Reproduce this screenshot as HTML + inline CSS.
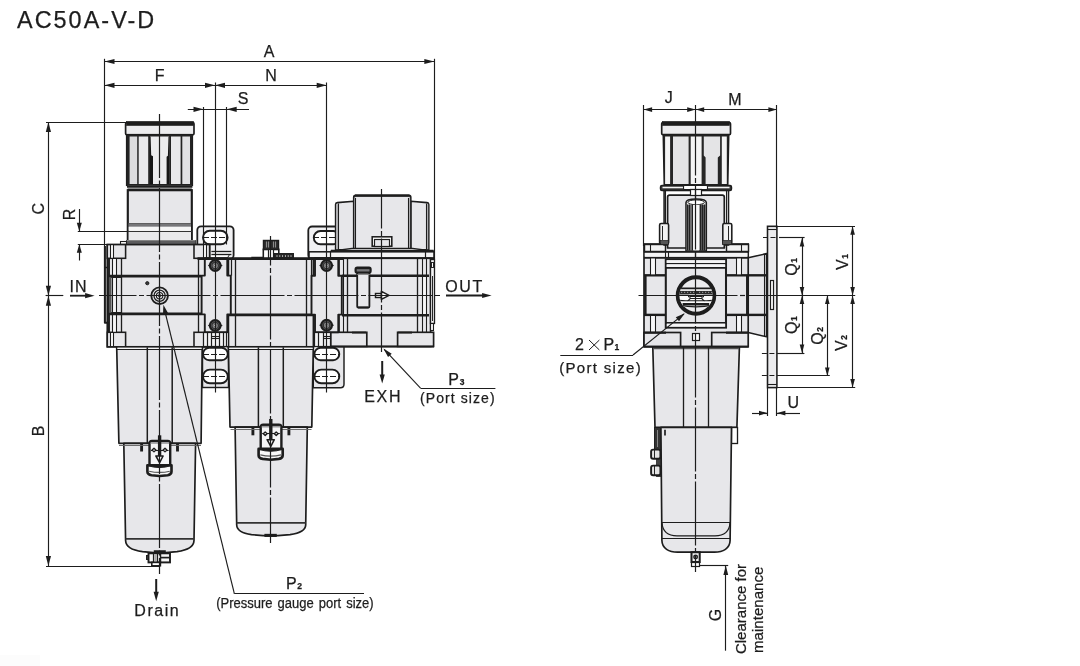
<!DOCTYPE html>
<html><head><meta charset="utf-8"><title>AC50A-V-D</title>
<style>
html,body{margin:0;padding:0;background:#fff;}
svg{display:block;will-change:transform;}
text{font-family:"Liberation Sans",sans-serif;fill:#1d1d1d;stroke:#1d1d1d;stroke-width:0.25px;}
</style></head><body>
<svg width="1080" height="666" viewBox="0 0 1080 666">
<rect x="0" y="0" width="1080" height="666" fill="#ffffff"/><rect x="0" y="655" width="40" height="11" fill="#fcfcfc"/>
<rect x="197.3" y="226.3" width="36.3" height="32.7" rx="3.8" fill="#f1f1f3" stroke="#1d1d1d" stroke-width="1.8" />
<rect x="203" y="230.8" width="24.6" height="13.5" rx="6.75" fill="#fff" stroke="#1d1d1d" stroke-width="1.92" />
<line x1="203" y1="237.5" x2="228" y2="237.5" stroke="#1d1d1d" stroke-width="1.08" stroke-dasharray="6 2"/>
<rect x="211.4" y="252.2" width="20.0" height="1.4" rx="0" fill="#fff" stroke="none" stroke-width="0.0" />
<rect x="211.4" y="254.6" width="18.1" height="2.8" rx="0" fill="#fff" stroke="none" stroke-width="0.0" />
<line x1="211.4" y1="251.5" x2="231.4" y2="251.5" stroke="#1d1d1d" stroke-width="1.32" />
<line x1="211.4" y1="254.5" x2="231.4" y2="254.5" stroke="#1d1d1d" stroke-width="1.32" />
<line x1="229.6" y1="254.5" x2="227.6" y2="257.6" stroke="#1d1d1d" stroke-width="0.96" />
<rect x="202.5" y="346.5" width="26.0" height="41.0" rx="0" fill="#e7e7ea" stroke="#1d1d1d" stroke-width="1.44" />
<rect x="203" y="347.8" width="24.8" height="12.4" rx="6.199999999999989" fill="#fff" stroke="#1d1d1d" stroke-width="1.92" />
<rect x="203" y="369.6" width="24.8" height="13.7" rx="6.849999999999994" fill="#fff" stroke="#1d1d1d" stroke-width="1.92" />
<line x1="203" y1="354.5" x2="228" y2="354.5" stroke="#1d1d1d" stroke-width="1.08" stroke-dasharray="6 2"/>
<line x1="203" y1="376.5" x2="228" y2="376.5" stroke="#1d1d1d" stroke-width="1.08" stroke-dasharray="6 2"/>
<rect x="308.3" y="226.5" width="35.7" height="32.5" rx="3.8" fill="#f1f1f3" stroke="#1d1d1d" stroke-width="1.8" />
<rect x="313.8" y="231" width="26.2" height="13.3" rx="6.650000000000006" fill="#fff" stroke="#1d1d1d" stroke-width="1.92" />
<line x1="313" y1="237.5" x2="341" y2="237.5" stroke="#1d1d1d" stroke-width="1.08" stroke-dasharray="6 2"/>
<path d="M313.3 346 L344 346 L344 384.3 Q344 387.8 340.5 387.8 L313.3 387.8 Z" fill="#e7e7ea" stroke="#1d1d1d" stroke-width="1.44" stroke-linejoin="round" />
<rect x="314.4" y="347.8" width="24.9" height="12.4" rx="6.199999999999989" fill="#fff" stroke="#1d1d1d" stroke-width="1.92" />
<rect x="314.4" y="369.6" width="24.9" height="13.7" rx="6.849999999999994" fill="#fff" stroke="#1d1d1d" stroke-width="1.92" />
<line x1="314" y1="354.5" x2="340" y2="354.5" stroke="#1d1d1d" stroke-width="1.08" stroke-dasharray="6 2"/>
<line x1="314" y1="376.5" x2="340" y2="376.5" stroke="#1d1d1d" stroke-width="1.08" stroke-dasharray="6 2"/>
<rect x="125.6" y="122.6" width="68.4" height="12.2" rx="1.2" fill="#ececee" stroke="#1d1d1d" stroke-width="1.68" />
<rect x="126.5" y="121.5" width="67.0" height="4.0" rx="0" fill="#1d1d1d" stroke="#1d1d1d" stroke-width="0.6" />
<rect x="126.5" y="134.5" width="66.0" height="51.0" rx="0" fill="#242424" stroke="#1d1d1d" stroke-width="1.2" />
<rect x="129.6" y="136.5" width="7.6" height="47.5" rx="0" fill="#dcdcde" stroke="none" stroke-width="0.0" />
<rect x="138.7" y="136.5" width="9.5" height="47.5" rx="0" fill="#e9e9eb" stroke="none" stroke-width="0.0" />
<rect x="150.0" y="136.5" width="19.1" height="47.5" rx="0" fill="#ececee" stroke="none" stroke-width="0.0" />
<rect x="171.0" y="136.5" width="9.6" height="47.5" rx="0" fill="#e9e9eb" stroke="none" stroke-width="0.0" />
<rect x="182.3" y="136.5" width="7.7" height="47.5" rx="0" fill="#e2e2e4" stroke="none" stroke-width="0.0" />
<path d="M150.0 136.5 L150.6 136.5 L151.2 155.2 L153.0 156.2 L153.0 184 L150.0 184 Z" fill="#161616" stroke="#1d1d1d" stroke-width="0.0" stroke-linejoin="round" />
<path d="M169.1 136.5 L168.5 136.5 L167.9 155.8 L166.6 156.8 L166.6 184 L169.1 184 Z" fill="#161616" stroke="#1d1d1d" stroke-width="0.0" stroke-linejoin="round" />
<rect x="127.6" y="185.6" width="64.2" height="4.8" rx="0" fill="#fafafa" stroke="none" stroke-width="0.0" />
<line x1="127.0" y1="186.5" x2="192.4" y2="186.5" stroke="#1d1d1d" stroke-width="2.4" />
<line x1="127.6" y1="189.6" x2="191.8" y2="189.6" stroke="#1d1d1d" stroke-width="2.16" />
<rect x="127.8" y="190.2" width="64.0" height="51.0" rx="0" fill="#e7e7ea" stroke="#1d1d1d" stroke-width="2.16" />
<rect x="128.6" y="223.3" width="62.4" height="3.5" rx="0" fill="#77777a" stroke="none" stroke-width="0.0" />
<line x1="128.6" y1="223.5" x2="191" y2="223.5" stroke="#555" stroke-width="0.84" />
<rect x="128.6" y="226.8" width="62.4" height="4.0" rx="0" fill="#f6f6f6" stroke="none" stroke-width="0.0" />
<rect x="128.6" y="231.8" width="62.4" height="8.4" rx="0" fill="#e9e9eb" stroke="none" stroke-width="0.0" />
<line x1="128" y1="231.5" x2="192" y2="231.5" stroke="#333" stroke-width="1.08" />
<rect x="120.5" y="241.5" width="6.0" height="3.0" rx="0" fill="#fff" stroke="#1d1d1d" stroke-width="1.08" />
<rect x="126.5" y="240.5" width="69.0" height="4.0" rx="0" fill="#5c5c5e" stroke="#1d1d1d" stroke-width="0.72" />
<line x1="126.6" y1="240.5" x2="195.2" y2="240.5" stroke="#888" stroke-width="0.96" />
<rect x="107.3" y="244.6" width="102.3" height="102.2" rx="0" fill="#e7e7ea" stroke="#1d1d1d" stroke-width="1.68" />
<path d="M104.9 246 L104.9 322.7 L108 322.7 L108 332" fill="none" stroke="#1d1d1d" stroke-width="2.04" stroke-linejoin="round" />
<line x1="104.9" y1="267.5" x2="108" y2="267.5" stroke="#1d1d1d" stroke-width="1.44" />
<rect x="107.3" y="244.6" width="18.3" height="13.7" rx="0" fill="#e7e7ea" stroke="#1d1d1d" stroke-width="1.56" />
<rect x="107.3" y="332.3" width="18.3" height="14.5" rx="0" fill="#e7e7ea" stroke="#1d1d1d" stroke-width="1.56" />
<rect x="194" y="244.6" width="15.6" height="13.7" rx="0" fill="#e7e7ea" stroke="#1d1d1d" stroke-width="1.56" />
<rect x="194" y="332.3" width="15.6" height="14.5" rx="0" fill="#e7e7ea" stroke="#1d1d1d" stroke-width="1.56" />
<rect x="110.6" y="245.4" width="2.6" height="12.2" rx="0" fill="#fafafa" stroke="none" stroke-width="0.0" />
<rect x="110.6" y="333" width="2.6" height="13" rx="0" fill="#fafafa" stroke="none" stroke-width="0.0" />
<rect x="203.6" y="245.4" width="2.6" height="12.2" rx="0" fill="#fafafa" stroke="none" stroke-width="0.0" />
<rect x="203.6" y="333" width="2.6" height="13" rx="0" fill="#fafafa" stroke="none" stroke-width="0.0" />
<line x1="110.5" y1="245" x2="110.5" y2="258" stroke="#1d1d1d" stroke-width="1.08" />
<line x1="110.5" y1="332.5" x2="110.5" y2="346.5" stroke="#1d1d1d" stroke-width="1.08" />
<line x1="113.5" y1="245" x2="113.5" y2="258" stroke="#1d1d1d" stroke-width="1.08" />
<line x1="113.5" y1="332.5" x2="113.5" y2="346.5" stroke="#1d1d1d" stroke-width="1.08" />
<line x1="203.5" y1="245" x2="203.5" y2="258" stroke="#1d1d1d" stroke-width="1.08" />
<line x1="203.5" y1="332.5" x2="203.5" y2="346.5" stroke="#1d1d1d" stroke-width="1.08" />
<line x1="206.5" y1="245" x2="206.5" y2="258" stroke="#1d1d1d" stroke-width="1.08" />
<line x1="206.5" y1="332.5" x2="206.5" y2="346.5" stroke="#1d1d1d" stroke-width="1.08" />
<line x1="121.5" y1="258.3" x2="121.5" y2="332.3" stroke="#1d1d1d" stroke-width="1.32" />
<line x1="198.5" y1="258.3" x2="198.5" y2="332.3" stroke="#1d1d1d" stroke-width="1.32" />
<rect x="112.4" y="259" width="4.0" height="72.6" rx="0" fill="#f7f7f8" stroke="none" stroke-width="0.0" />
<line x1="112.5" y1="258.3" x2="112.5" y2="332.3" stroke="#1d1d1d" stroke-width="1.08" />
<line x1="116.5" y1="258.3" x2="116.5" y2="332.3" stroke="#1d1d1d" stroke-width="1.08" />
<line x1="109.0" y1="258.3" x2="109.0" y2="332.3" stroke="#1d1d1d" stroke-width="1.92" />
<line x1="108.5" y1="276.1" x2="201" y2="276.1" stroke="#1d1d1d" stroke-width="2.64" />
<line x1="108.5" y1="313.9" x2="201" y2="313.9" stroke="#1d1d1d" stroke-width="2.64" />
<path d="M121.8 277.2 L110.5 277.2 Q108.2 277.2 108.2 279.5 L108.2 310.5 Q108.2 312.8 110.5 312.8 L121.8 312.8" fill="none" stroke="#1d1d1d" stroke-width="1.44" stroke-linejoin="round" />
<line x1="110.2" y1="277.2" x2="110.2" y2="312.8" stroke="#555" stroke-width="2.64" />
<circle cx="159.6" cy="295.7" r="8.3" fill="#e7e7ea" stroke="#1d1d1d" stroke-width="1.92"/>
<circle cx="159.6" cy="295.7" r="5.6" fill="none" stroke="#1d1d1d" stroke-width="1.32"/>
<circle cx="159.6" cy="295.7" r="3.2" fill="none" stroke="#1d1d1d" stroke-width="1.08"/>
<circle cx="159.6" cy="295.7" r="1.3" fill="none" stroke="#1d1d1d" stroke-width="0.84"/>
<circle cx="147.3" cy="283.2" r="1.6" fill="#3a3a3a" stroke="#1d1d1d" stroke-width="0.96"/>
<rect x="228.4" y="258.7" width="85.0" height="88.1" rx="0" fill="#e7e7ea" stroke="#1d1d1d" stroke-width="1.68" />
<line x1="235.5" y1="258.7" x2="235.5" y2="346.8" stroke="#1d1d1d" stroke-width="1.32" />
<line x1="306.5" y1="258.7" x2="306.5" y2="346.8" stroke="#1d1d1d" stroke-width="1.32" />
<line x1="228.4" y1="314.9" x2="313.4" y2="314.9" stroke="#1d1d1d" stroke-width="2.64" />
<line x1="231.5" y1="258.7" x2="231.5" y2="275.6" stroke="#1d1d1d" stroke-width="1.2" />
<line x1="311.5" y1="258.7" x2="311.5" y2="275.6" stroke="#1d1d1d" stroke-width="1.2" />
<line x1="251.3" y1="257.5" x2="293.6" y2="257.5" stroke="#1d1d1d" stroke-width="1.44" />
<rect x="263.3" y="249.3" width="15.5" height="9.4" rx="0" fill="#fff" stroke="#1d1d1d" stroke-width="1.56" />
<rect x="263.5" y="240.5" width="15.0" height="9.0" rx="0" fill="#2c2c2c" stroke="#1d1d1d" stroke-width="1.44" />
<line x1="266.5" y1="241.5" x2="266.5" y2="247.5" stroke="#8a8a8a" stroke-width="1.08" />
<line x1="268.5" y1="241.5" x2="268.5" y2="247.5" stroke="#8a8a8a" stroke-width="1.08" />
<line x1="273.5" y1="241.5" x2="273.5" y2="247.5" stroke="#8a8a8a" stroke-width="1.08" />
<line x1="275.5" y1="241.5" x2="275.5" y2="247.5" stroke="#8a8a8a" stroke-width="1.08" />
<rect x="268.5" y="249.5" width="5.0" height="9.0" rx="0" fill="#fff" stroke="#1d1d1d" stroke-width="1.2" />
<rect x="274.5" y="253.5" width="19.0" height="5.0" rx="0" fill="#262626" stroke="#1d1d1d" stroke-width="0.96" />
<rect x="276.55" y="255.2" width="0.9" height="1.7" rx="0" fill="#cfcfcf" stroke="none" stroke-width="0.0" />
<rect x="279.35" y="255.2" width="0.9" height="1.7" rx="0" fill="#cfcfcf" stroke="none" stroke-width="0.0" />
<rect x="282.15000000000003" y="255.2" width="0.9" height="1.7" rx="0" fill="#cfcfcf" stroke="none" stroke-width="0.0" />
<rect x="284.95" y="255.2" width="0.9" height="1.7" rx="0" fill="#cfcfcf" stroke="none" stroke-width="0.0" />
<rect x="287.75" y="255.2" width="0.9" height="1.7" rx="0" fill="#cfcfcf" stroke="none" stroke-width="0.0" />
<rect x="290.55" y="255.2" width="0.9" height="1.7" rx="0" fill="#cfcfcf" stroke="none" stroke-width="0.0" />
<path d="M335.6 249.8 L335.6 204.6 Q335.6 202.8 337.4 202.6 L353.8 201.2 L353.8 249.8 Z" fill="#e7e7ea" stroke="#1d1d1d" stroke-width="1.56" stroke-linejoin="round" />
<path d="M428.8 249.8 L428.8 204.6 Q428.8 202.8 427 202.6 L410.7 201.2 L410.7 249.8 Z" fill="#e7e7ea" stroke="#1d1d1d" stroke-width="1.56" stroke-linejoin="round" />
<rect x="336.2" y="204.2" width="2.5" height="45.2" rx="0" fill="#b4b4b6" stroke="none" stroke-width="0.0" />
<rect x="426.1" y="204.2" width="2.1" height="45.2" rx="0" fill="#b4b4b6" stroke="none" stroke-width="0.0" />
<line x1="338.5" y1="203.5" x2="338.5" y2="249.8" stroke="#1d1d1d" stroke-width="1.08" />
<line x1="426.5" y1="203.5" x2="426.5" y2="249.8" stroke="#1d1d1d" stroke-width="1.08" />
<path d="M353.8 249.8 L353.8 197.3 Q353.8 195.5 355.6 195.5 L408.9 195.5 Q410.7 195.5 410.7 197.3 L410.7 249.8 Z" fill="#e7e7ea" stroke="#1d1d1d" stroke-width="1.8" stroke-linejoin="round" />
<line x1="355" y1="195.6" x2="409.5" y2="195.6" stroke="#1d1d1d" stroke-width="2.4" />
<rect x="354.4" y="197.5" width="1.5" height="51.9" rx="0" fill="#b4b4b6" stroke="none" stroke-width="0.0" />
<rect x="408.5" y="197.5" width="1.6" height="51.9" rx="0" fill="#b4b4b6" stroke="none" stroke-width="0.0" />
<line x1="355.5" y1="198" x2="355.5" y2="249.8" stroke="#1d1d1d" stroke-width="1.08" />
<line x1="408.5" y1="198" x2="408.5" y2="249.8" stroke="#1d1d1d" stroke-width="1.08" />
<rect x="372.2" y="236.8" width="19.6" height="9.4" rx="0" fill="#fff" stroke="#1d1d1d" stroke-width="1.56" />
<rect x="374.5" y="239.5" width="15.0" height="7.0" rx="0" fill="#e7e7ea" stroke="#1d1d1d" stroke-width="1.2" />
<path d="M330.8 251.2 L352 248.4 L412.5 248.4 L433.6 251.2 L433.6 258.3 L330.8 258.3 Z" fill="#f2f2f3" stroke="#1d1d1d" stroke-width="1.44" stroke-linejoin="round" />
<line x1="331" y1="250.8" x2="433.6" y2="250.8" stroke="#1d1d1d" stroke-width="2.16" />
<rect x="309" y="251.8" width="125" height="6.5" rx="0" fill="#f4f4f5" stroke="#1d1d1d" stroke-width="1.56" />
<line x1="330.5" y1="251.8" x2="330.5" y2="258.3" stroke="#1d1d1d" stroke-width="1.2" />
<line x1="425.5" y1="251.8" x2="425.5" y2="258.3" stroke="#1d1d1d" stroke-width="1.2" />
<line x1="309" y1="258.3" x2="434" y2="258.3" stroke="#1d1d1d" stroke-width="2.16" />
<rect x="339" y="258.3" width="91.6" height="88.1" rx="0" fill="#e7e7ea" stroke="#1d1d1d" stroke-width="1.68" />
<line x1="342" y1="275.8" x2="429" y2="275.8" stroke="#1d1d1d" stroke-width="2.4" />
<line x1="342" y1="315.3" x2="429" y2="315.3" stroke="#1d1d1d" stroke-width="2.4" />
<line x1="347.5" y1="258.3" x2="347.5" y2="332.3" stroke="#1d1d1d" stroke-width="1.32" />
<line x1="417.5" y1="258.3" x2="417.5" y2="332.3" stroke="#1d1d1d" stroke-width="1.32" />
<rect x="422.8" y="277" width="4.1" height="37" rx="0" fill="#f7f7f8" stroke="none" stroke-width="0.0" />
<line x1="422.5" y1="258.3" x2="422.5" y2="332.3" stroke="#1d1d1d" stroke-width="1.08" />
<line x1="426.5" y1="258.3" x2="426.5" y2="332.3" stroke="#1d1d1d" stroke-width="1.08" />
<line x1="343.5" y1="258.3" x2="343.5" y2="332.3" stroke="#1d1d1d" stroke-width="1.08" />
<rect x="430.5" y="259.5" width="4.0" height="64.0" rx="0" fill="#f4f4f5" stroke="#1d1d1d" stroke-width="1.32" />
<rect x="431.5" y="262.5" width="2.0" height="5.0" rx="0" fill="#fff" stroke="#1d1d1d" stroke-width="0.96" />
<line x1="432.5" y1="276" x2="432.5" y2="321" stroke="#1d1d1d" stroke-width="0.96" />
<rect x="430.5" y="323.5" width="3.0" height="7.0" rx="0" fill="#f4f4f5" stroke="#1d1d1d" stroke-width="1.08" />
<rect x="357.2" y="271" width="12.2" height="36.6" rx="1.2" fill="#e9e9ec" stroke="#1d1d1d" stroke-width="1.8" />
<line x1="358" y1="307.4" x2="368.6" y2="307.4" stroke="#1d1d1d" stroke-width="1.92" />
<rect x="355.6" y="267.6" width="15.0" height="5.0" rx="1.6" fill="#77777a" stroke="#1d1d1d" stroke-width="2.16" />
<line x1="356" y1="268.2" x2="370.2" y2="268.2" stroke="#1d1d1d" stroke-width="1.92" />
<line x1="357.2" y1="274.5" x2="369.8" y2="274.5" stroke="#888" stroke-width="0.96" />
<rect x="375.5" y="293.5" width="6.0" height="4.0" rx="0" fill="#fff" stroke="#1d1d1d" stroke-width="1.44" />
<line x1="375" y1="295.5" x2="381.4" y2="295.5" stroke="#1d1d1d" stroke-width="0.84" />
<path d="M381.4 291.4 L389.0 295.4 L381.4 299.4 Z" fill="#fff" stroke="#1d1d1d" stroke-width="1.56" stroke-linejoin="round" />
<rect x="330.8" y="332.3" width="36.0" height="14.1" rx="0" fill="#e7e7ea" stroke="#1d1d1d" stroke-width="1.68" />
<rect x="397.6" y="332.3" width="36.0" height="14.1" rx="0" fill="#e7e7ea" stroke="#1d1d1d" stroke-width="1.68" />
<line x1="352" y1="332.6" x2="366" y2="332.6" stroke="#1d1d1d" stroke-width="1.92" />
<line x1="398" y1="332.6" x2="412" y2="332.6" stroke="#1d1d1d" stroke-width="1.92" />
<line x1="330.8" y1="346.6" x2="434" y2="346.6" stroke="#1d1d1d" stroke-width="1.92" />
<path d="M204.8 258.3 L227.3 258.3 L227.3 275.6 L230.8 275.6 L230.8 314.4 L227.3 314.4 L227.3 332.3 L204.8 332.3 L204.8 314.4 L201.6 314.4 L201.6 275.6 L204.8 275.6 Z" fill="#e7e7ea" stroke="#1d1d1d" stroke-width="1.92" stroke-linejoin="round" />
<path d="M208.0 265.5 L210.2 264.1 L210.2 266.9 Z M222.39999999999998 265.5 L220.2 264.1 L220.2 266.9 Z" fill="#1d1d1d" stroke="#1d1d1d" stroke-width="0.36" stroke-linejoin="round" />
<circle cx="215.2" cy="265.5" r="5.3" fill="#6a6a6c" stroke="#1d1d1d" stroke-width="2.16"/>
<circle cx="215.2" cy="265.5" r="3.2" fill="#8a8a8c" stroke="#333" stroke-width="1.2"/>
<circle cx="215.2" cy="265.5" r="1.3" fill="#e0e0e0" stroke="#444" stroke-width="0.72"/>
<path d="M208.0 325.5 L210.2 324.1 L210.2 326.9 Z M222.39999999999998 325.5 L220.2 324.1 L220.2 326.9 Z" fill="#1d1d1d" stroke="#1d1d1d" stroke-width="0.36" stroke-linejoin="round" />
<circle cx="215.2" cy="325.5" r="5.3" fill="#6a6a6c" stroke="#1d1d1d" stroke-width="2.16"/>
<circle cx="215.2" cy="325.5" r="3.2" fill="#8a8a8c" stroke="#333" stroke-width="1.2"/>
<circle cx="215.2" cy="325.5" r="1.3" fill="#e0e0e0" stroke="#444" stroke-width="0.72"/>
<rect x="203.5" y="332.5" width="25.0" height="14.0" rx="0" fill="#f3f3f4" stroke="#1d1d1d" stroke-width="1.2" />
<line x1="207.5" y1="332.3" x2="207.5" y2="346.8" stroke="#1d1d1d" stroke-width="1.2" />
<line x1="211.5" y1="332.3" x2="211.5" y2="346.8" stroke="#1d1d1d" stroke-width="1.2" />
<line x1="219.5" y1="332.3" x2="219.5" y2="346.8" stroke="#1d1d1d" stroke-width="1.2" />
<line x1="223.5" y1="332.3" x2="223.5" y2="346.8" stroke="#1d1d1d" stroke-width="1.2" />
<line x1="226.5" y1="332.3" x2="226.5" y2="346.8" stroke="#1d1d1d" stroke-width="1.2" />
<line x1="211.8" y1="336.5" x2="219.0" y2="336.5" stroke="#1d1d1d" stroke-width="1.08" />
<line x1="211.8" y1="338.5" x2="219.0" y2="338.5" stroke="#1d1d1d" stroke-width="1.08" />
<line x1="215.5" y1="338.6" x2="215.5" y2="346.8" stroke="#1d1d1d" stroke-width="0.96" />
<path d="M315 258.3 L338.3 258.3 L338.3 275.8 L341.8 275.8 L341.8 314.6 L338.3 314.6 L338.3 332.3 L315 332.3 L315 314.6 L311.5 314.6 L311.5 275.8 L315 275.8 Z" fill="#e7e7ea" stroke="#1d1d1d" stroke-width="1.92" stroke-linejoin="round" />
<path d="M319.40000000000003 265.5 L321.6 264.1 L321.6 266.9 Z M333.8 265.5 L331.6 264.1 L331.6 266.9 Z" fill="#1d1d1d" stroke="#1d1d1d" stroke-width="0.36" stroke-linejoin="round" />
<circle cx="326.6" cy="265.5" r="5.3" fill="#6a6a6c" stroke="#1d1d1d" stroke-width="2.16"/>
<circle cx="326.6" cy="265.5" r="3.2" fill="#8a8a8c" stroke="#333" stroke-width="1.2"/>
<circle cx="326.6" cy="265.5" r="1.3" fill="#e0e0e0" stroke="#444" stroke-width="0.72"/>
<path d="M319.40000000000003 325.2 L321.6 323.8 L321.6 326.59999999999997 Z M333.8 325.2 L331.6 323.8 L331.6 326.59999999999997 Z" fill="#1d1d1d" stroke="#1d1d1d" stroke-width="0.36" stroke-linejoin="round" />
<circle cx="326.6" cy="325.2" r="5.3" fill="#6a6a6c" stroke="#1d1d1d" stroke-width="2.16"/>
<circle cx="326.6" cy="325.2" r="3.2" fill="#8a8a8c" stroke="#333" stroke-width="1.2"/>
<circle cx="326.6" cy="325.2" r="1.3" fill="#e0e0e0" stroke="#444" stroke-width="0.72"/>
<rect x="314.5" y="332.5" width="16.0" height="14.0" rx="0" fill="#f3f3f4" stroke="#1d1d1d" stroke-width="1.2" />
<line x1="318.5" y1="332.3" x2="318.5" y2="346.8" stroke="#1d1d1d" stroke-width="1.2" />
<line x1="323.5" y1="332.3" x2="323.5" y2="346.8" stroke="#1d1d1d" stroke-width="1.2" />
<line x1="323.09999999999997" y1="336.5" x2="330.3" y2="336.5" stroke="#1d1d1d" stroke-width="1.08" />
<line x1="323.09999999999997" y1="338.5" x2="330.3" y2="338.5" stroke="#1d1d1d" stroke-width="1.08" />
<line x1="326.5" y1="338.6" x2="326.5" y2="346.8" stroke="#1d1d1d" stroke-width="0.96" />
<line x1="197.5" y1="258.7" x2="344" y2="258.7" stroke="#1d1d1d" stroke-width="2.76" />
<path d="M116.7 347.3 L202.2 347.3 L201.1 443.3 L118.9 443.3 Z" fill="#e7e7ea" stroke="#1d1d1d" stroke-width="1.68" stroke-linejoin="round" />
<rect x="117.4" y="347.6" width="84.2" height="1.4" rx="0" fill="#f3f3f4" stroke="none" stroke-width="0.0" />
<line x1="117" y1="349.5" x2="202" y2="349.5" stroke="#1d1d1d" stroke-width="1.2" />
<line x1="147.3" y1="347.3" x2="147.3" y2="443.3" stroke="#1d1d1d" stroke-width="1.5" />
<line x1="172.2" y1="347.3" x2="172.2" y2="443.3" stroke="#1d1d1d" stroke-width="1.5" />
<path d="M123.8 443.3 L195.6 443.3 L194.0 540.5 C193.8 547.5 187 550.3 177 551.6 L166 552.7 L153.5 552.7 L142.5 551.6 C132.5 550.3 125.8 547.5 125.6 540.5 Z" fill="#e7e7ea" stroke="#1d1d1d" stroke-width="1.68" stroke-linejoin="round" />
<line x1="125.6" y1="538.8" x2="194" y2="538.8" stroke="#333" stroke-width="1.8" />
<line x1="153.8" y1="551.8" x2="165.8" y2="551.8" stroke="#1d1d1d" stroke-width="3.12" />
<line x1="141.6" y1="444" x2="141.6" y2="451.5" stroke="#1d1d1d" stroke-width="2.88" />
<line x1="177.5" y1="444" x2="177.5" y2="451.5" stroke="#1d1d1d" stroke-width="2.88" />
<line x1="119" y1="445.5" x2="201" y2="445.5" stroke="#666" stroke-width="0.96" />
<rect x="148.5" y="553.3" width="21.5" height="9.1" rx="0" fill="#f6f6f6" stroke="#1d1d1d" stroke-width="1.92" />
<rect x="146.5" y="555.5" width="2.0" height="4.0" rx="0" fill="#333" stroke="#1d1d1d" stroke-width="0.96" />
<line x1="153.5" y1="553.3" x2="153.5" y2="562.4" stroke="#1d1d1d" stroke-width="1.2" />
<rect x="154.3" y="554" width="2.3" height="8" rx="0" fill="#aaa" stroke="none" stroke-width="0.0" />
<line x1="157.5" y1="553.3" x2="157.5" y2="562.4" stroke="#1d1d1d" stroke-width="1.2" />
<line x1="160.5" y1="553.3" x2="160.5" y2="562.4" stroke="#1d1d1d" stroke-width="1.44" />
<line x1="160.4" y1="557.6" x2="170" y2="557.6" stroke="#1d1d1d" stroke-width="1.68" />
<rect x="151.8" y="562.4" width="8.6" height="3.4" rx="0" fill="#fff" stroke="#1d1d1d" stroke-width="1.56" />
<path d="M152.0 441.0 L167.7 441.0 Q170.2 441.0 170.2 443.5 L170.2 465.5 L149.5 465.5 L149.5 443.5 Q149.5 441.0 152.0 441.0 Z" fill="#f6f6f7" stroke="#1d1d1d" stroke-width="2.4" stroke-linejoin="round" />
<rect x="150.5" y="442.2" width="18.7" height="1.6" rx="0" fill="#9a9a9c" stroke="none" stroke-width="0.0" />
<path d="M147.4 465.2 L171.5 465.2 L171.5 471.5 Q171.5 474.6 167.6 475.2 L159.6 476.0 L151.6 475.2 Q147.4 474.6 147.4 471.5 Z" fill="#f8f8f8" stroke="#1d1d1d" stroke-width="2.64" stroke-linejoin="round" />
<path d="M147.79999999999998 465.6 Q159.6 469.6 171.1 465.6 Z" fill="#1d1d1d" stroke="#1d1d1d" stroke-width="0.96" stroke-linejoin="round" />
<path d="M149.1 471.2 Q159.6 473.6 169.79999999999998 471.2" fill="none" stroke="#555" stroke-width="1.08" stroke-linejoin="round" />
<line x1="159.6" y1="435.3" x2="159.6" y2="456.0" stroke="#1d1d1d" stroke-width="3.36" />
<line x1="151.0" y1="450.5" x2="168.6" y2="450.5" stroke="#1d1d1d" stroke-width="1.08" />
<path d="M152.1 450.0 L154.0 448.2 L155.9 450.0 L154.0 451.8 Z" fill="#fff" stroke="#1d1d1d" stroke-width="1.32" stroke-linejoin="round" />
<path d="M163.1 450.0 L165.0 448.2 L166.9 450.0 L165.0 451.8 Z" fill="#fff" stroke="#1d1d1d" stroke-width="1.32" stroke-linejoin="round" />
<path d="M155.9 456.0 L163.1 456.0 L159.6 462.6 Z" fill="#fff" stroke="#1d1d1d" stroke-width="1.56" stroke-linejoin="round" />
<path d="M228.4 347.3 L313.3 347.3 L311.8 427.1 L230 427.1 Z" fill="#e7e7ea" stroke="#1d1d1d" stroke-width="1.68" stroke-linejoin="round" />
<rect x="229.2" y="347.6" width="83.4" height="1.4" rx="0" fill="#f3f3f4" stroke="none" stroke-width="0.0" />
<line x1="229" y1="349.5" x2="313" y2="349.5" stroke="#1d1d1d" stroke-width="1.2" />
<line x1="258.4" y1="347.3" x2="258.4" y2="427.1" stroke="#1d1d1d" stroke-width="1.5" />
<line x1="283.3" y1="347.3" x2="283.3" y2="427.1" stroke="#1d1d1d" stroke-width="1.5" />
<path d="M235.1 427.1 L307.3 427.1 L305.7 525.0 C305.5 530.5 300 533.2 290 534.6 L278 535.6 L263 535.6 L251.5 534.6 C241.5 533.2 236.9 530.5 236.7 525.0 Z" fill="#e7e7ea" stroke="#1d1d1d" stroke-width="1.68" stroke-linejoin="round" />
<line x1="236.7" y1="522.9" x2="305.7" y2="522.9" stroke="#333" stroke-width="1.8" />
<line x1="264.4" y1="535.4" x2="276.8" y2="535.4" stroke="#1d1d1d" stroke-width="3.12" />
<line x1="252.9" y1="428" x2="252.9" y2="435.3" stroke="#1d1d1d" stroke-width="2.88" />
<line x1="288.9" y1="428" x2="288.9" y2="435.3" stroke="#1d1d1d" stroke-width="2.88" />
<line x1="230.5" y1="429.5" x2="311.5" y2="429.5" stroke="#666" stroke-width="0.96" />
<path d="M263.2 424.7 L278.90000000000003 424.7 Q281.40000000000003 424.7 281.40000000000003 427.2 L281.40000000000003 449.2 L260.7 449.2 L260.7 427.2 Q260.7 424.7 263.2 424.7 Z" fill="#f6f6f7" stroke="#1d1d1d" stroke-width="2.4" stroke-linejoin="round" />
<rect x="261.7" y="425.9" width="18.7" height="1.6" rx="0" fill="#9a9a9c" stroke="none" stroke-width="0.0" />
<path d="M258.6 448.9 L282.7 448.9 L282.7 455.2 Q282.7 458.3 278.8 458.9 L270.8 459.7 L262.8 458.9 Q258.6 458.3 258.6 455.2 Z" fill="#f8f8f8" stroke="#1d1d1d" stroke-width="2.64" stroke-linejoin="round" />
<path d="M259.0 449.3 Q270.8 453.3 282.3 449.3 Z" fill="#1d1d1d" stroke="#1d1d1d" stroke-width="0.96" stroke-linejoin="round" />
<path d="M260.3 454.9 Q270.8 457.3 281.0 454.9" fill="none" stroke="#555" stroke-width="1.08" stroke-linejoin="round" />
<line x1="270.8" y1="419.0" x2="270.8" y2="439.7" stroke="#1d1d1d" stroke-width="3.36" />
<line x1="262.2" y1="433.5" x2="279.8" y2="433.5" stroke="#1d1d1d" stroke-width="1.08" />
<path d="M263.3 433.7 L265.2 431.9 L267.09999999999997 433.7 L265.2 435.5 Z" fill="#fff" stroke="#1d1d1d" stroke-width="1.32" stroke-linejoin="round" />
<path d="M274.3 433.7 L276.2 431.9 L278.09999999999997 433.7 L276.2 435.5 Z" fill="#fff" stroke="#1d1d1d" stroke-width="1.32" stroke-linejoin="round" />
<path d="M267.1 439.7 L274.3 439.7 L270.8 446.3 Z" fill="#fff" stroke="#1d1d1d" stroke-width="1.56" stroke-linejoin="round" />
<line x1="159.5" y1="114" x2="159.5" y2="574" stroke="#1d1d1d" stroke-width="1.2" stroke-dasharray="64 2.5 5 2.5" stroke-dashoffset="0"/>
<line x1="270.5" y1="236" x2="270.5" y2="543" stroke="#1d1d1d" stroke-width="1.2" stroke-dasharray="64 2.5 5 2.5" stroke-dashoffset="34.5"/>
<line x1="381.5" y1="189" x2="381.5" y2="352" stroke="#1d1d1d" stroke-width="1.2" stroke-dasharray="64 2.5 5 2.5" stroke-dashoffset="24.5"/>
<line x1="99" y1="295.5" x2="441" y2="295.5" stroke="#1d1d1d" stroke-width="1.2" stroke-dasharray="64 2.5 5 2.5" stroke-dashoffset="26.5"/>
<rect x="767.5" y="226.3" width="9.4" height="161.3" rx="0" fill="#ececee" stroke="#1d1d1d" stroke-width="1.56" />
<line x1="767.5" y1="229.5" x2="776.9" y2="229.5" stroke="#1d1d1d" stroke-width="1.08" />
<line x1="767.5" y1="384.5" x2="776.9" y2="384.5" stroke="#1d1d1d" stroke-width="1.08" />
<rect x="770.5" y="280.5" width="3.0" height="29.0" rx="0" fill="#fff" stroke="#1d1d1d" stroke-width="1.2" />
<path d="M748.2 257.8 L766.6 253.6 L766.6 336.8 L748.2 332.5 Z" fill="#e7e7ea" stroke="#1d1d1d" stroke-width="1.56" stroke-linejoin="round" />
<line x1="748.2" y1="275.3" x2="766.6" y2="275.3" stroke="#1d1d1d" stroke-width="2.4" />
<line x1="748.2" y1="314.9" x2="766.6" y2="314.9" stroke="#1d1d1d" stroke-width="2.4" />
<line x1="764.5" y1="254.2" x2="764.5" y2="336.2" stroke="#1d1d1d" stroke-width="1.08" />
<rect x="661.7" y="122.6" width="68.8" height="12.1" rx="1.2" fill="#ececee" stroke="#1d1d1d" stroke-width="1.68" />
<rect x="662.5" y="121.5" width="67.0" height="4.0" rx="0" fill="#1d1d1d" stroke="#1d1d1d" stroke-width="0.6" />
<path d="M663.2 134.7 L728.8 134.7 L727.8 185.1 L664.2 185.1 Z" fill="#262626" stroke="#1d1d1d" stroke-width="1.44" stroke-linejoin="round" />
<rect x="665.1" y="136.5" width="5.0" height="47.5" rx="0" fill="#f4f4f4" stroke="none" stroke-width="0.0" />
<rect x="673.0" y="136.5" width="15.6" height="47.5" rx="0" fill="#e4e4e6" stroke="none" stroke-width="0.0" />
<rect x="690.7" y="136.5" width="10.9" height="47.5" rx="0" fill="#f4f4f4" stroke="none" stroke-width="0.0" />
<path d="M703.8 136.5 L720.1 136.5 L720.1 155.5 L717.8 157.5 L717.8 184 L705.6 184 L705.6 157.5 L703.8 155.5 Z" fill="#e4e4e6" stroke="none" stroke-width="0.0" stroke-linejoin="round" />
<rect x="721.8" y="136.5" width="5.0" height="47.5" rx="0" fill="#f4f4f4" stroke="none" stroke-width="0.0" />
<rect x="660.5" y="185.5" width="71.0" height="5.0" rx="1.5" fill="#3a3a3a" stroke="#1d1d1d" stroke-width="1.44" />
<line x1="662.5" y1="187.5" x2="729.5" y2="187.5" stroke="#f4f4f4" stroke-width="1.44" />
<rect x="683.5" y="185.5" width="24.0" height="4.0" rx="1" fill="#fff" stroke="#1d1d1d" stroke-width="1.08" />
<rect x="690.5" y="189.5" width="11.0" height="6.0" rx="0" fill="#fff" stroke="#1d1d1d" stroke-width="1.08" />
<rect x="644" y="244" width="104.2" height="102.6" rx="0" fill="#e7e7ea" stroke="#1d1d1d" stroke-width="1.68" />
<rect x="644.5" y="244.5" width="21.0" height="7.0" rx="0" fill="#f2f2f2" stroke="#1d1d1d" stroke-width="1.44" />
<rect x="726.5" y="244.5" width="22.0" height="7.0" rx="0" fill="#f2f2f2" stroke="#1d1d1d" stroke-width="1.44" />
<line x1="650.5" y1="244" x2="650.5" y2="251.6" stroke="#1d1d1d" stroke-width="1.08" />
<line x1="741.5" y1="244" x2="741.5" y2="251.6" stroke="#1d1d1d" stroke-width="1.08" />
<rect x="664.1" y="190.5" width="64.4" height="54.5" rx="0" fill="#fff" stroke="#1d1d1d" stroke-width="1.56" />
<line x1="665.5" y1="190.5" x2="665.5" y2="245" stroke="#1d1d1d" stroke-width="1.08" />
<line x1="726.5" y1="190.5" x2="726.5" y2="245" stroke="#1d1d1d" stroke-width="1.08" />
<path d="M667.6 248 L667.6 197.2 Q667.6 195.2 669.6 195.2 L722.3 195.2 Q724.3 195.2 724.3 197.2 L724.3 248 Z" fill="#e7e7ea" stroke="#1d1d1d" stroke-width="1.68" stroke-linejoin="round" />
<rect x="659.6" y="223.5" width="9.0" height="20.5" rx="1.5" fill="#f2f2f2" stroke="#1d1d1d" stroke-width="1.56" />
<rect x="722.8" y="223.5" width="9.0" height="20.5" rx="1.5" fill="#f2f2f2" stroke="#1d1d1d" stroke-width="1.56" />
<line x1="662.5" y1="226" x2="662.5" y2="240" stroke="#1d1d1d" stroke-width="0.96" />
<line x1="728.5" y1="226" x2="728.5" y2="240" stroke="#1d1d1d" stroke-width="0.96" />
<rect x="660.5" y="240.5" width="8.0" height="4.0" rx="0" fill="#555" stroke="#1d1d1d" stroke-width="0.72" />
<rect x="722.5" y="240.5" width="9.0" height="4.0" rx="0" fill="#555" stroke="#1d1d1d" stroke-width="0.72" />
<path d="M686 250.8 L686 202.5 Q686 199 696.2 199 Q706.3 199 706.3 202.5 L706.3 250.8 Z" fill="#f0f0f0" stroke="#1d1d1d" stroke-width="1.56" stroke-linejoin="round" />
<ellipse cx="696.15" cy="202.3" rx="8.3" ry="2.4" fill="#fff" stroke="#1d1d1d" stroke-width="1.0"/>
<rect x="686.6" y="204.8" width="6.4" height="45.7" rx="0" fill="#808082" stroke="none" stroke-width="0.0" />
<rect x="699.4" y="204.8" width="6.3" height="45.7" rx="0" fill="#6e6e70" stroke="none" stroke-width="0.0" />
<line x1="687.5" y1="204.5" x2="687.5" y2="250.5" stroke="#222" stroke-width="1.32" />
<line x1="689.5" y1="204.5" x2="689.5" y2="250.5" stroke="#222" stroke-width="1.32" />
<line x1="692.5" y1="204.5" x2="692.5" y2="250.5" stroke="#222" stroke-width="1.32" />
<line x1="700.5" y1="204.5" x2="700.5" y2="250.5" stroke="#222" stroke-width="1.32" />
<line x1="702.5" y1="204.5" x2="702.5" y2="250.5" stroke="#222" stroke-width="1.32" />
<line x1="704.5" y1="204.5" x2="704.5" y2="250.5" stroke="#222" stroke-width="1.32" />
<rect x="693.2" y="204.8" width="6.0" height="45.7" rx="0" fill="#fafafa" stroke="none" stroke-width="0.0" />
<rect x="690.5" y="189.5" width="11.0" height="6.0" rx="0" fill="#fff" stroke="#1d1d1d" stroke-width="1.2" />
<line x1="695.5" y1="189.6" x2="695.5" y2="199" stroke="#1d1d1d" stroke-width="1.2" />
<line x1="644" y1="252.0" x2="748.2" y2="252.0" stroke="#1d1d1d" stroke-width="1.92" />
<line x1="644" y1="257.6" x2="748.2" y2="257.6" stroke="#1d1d1d" stroke-width="2.4" />
<rect x="644.8" y="252.8" width="102.6" height="4.0" rx="0" fill="#f4f4f5" stroke="none" stroke-width="0.0" />
<line x1="665.5" y1="252" x2="665.5" y2="257.6" stroke="#1d1d1d" stroke-width="1.08" />
<line x1="668.5" y1="252" x2="668.5" y2="257.6" stroke="#1d1d1d" stroke-width="1.08" />
<line x1="695.5" y1="252" x2="695.5" y2="257.6" stroke="#1d1d1d" stroke-width="1.2" />
<rect x="665.8" y="259.3" width="60.2" height="68.3" rx="0" fill="#e7e7ea" stroke="#1d1d1d" stroke-width="2.04" />
<line x1="665.8" y1="263.5" x2="726" y2="263.5" stroke="#1d1d1d" stroke-width="1.44" />
<line x1="665.8" y1="267.8" x2="726" y2="267.8" stroke="#1d1d1d" stroke-width="1.92" />
<rect x="666.6" y="260.2" width="58.6" height="2.8" rx="0" fill="#f4f4f5" stroke="none" stroke-width="0.0" />
<rect x="666.6" y="264.4" width="58.6" height="2.6" rx="0" fill="#f4f4f5" stroke="none" stroke-width="0.0" />
<line x1="665.8" y1="322.8" x2="726" y2="322.8" stroke="#1d1d1d" stroke-width="1.8" />
<rect x="666.8" y="323.7" width="58.4" height="3.0" rx="0" fill="#f6f6f7" stroke="none" stroke-width="0.0" />
<line x1="644" y1="275.3" x2="665.8" y2="275.3" stroke="#1d1d1d" stroke-width="2.4" />
<line x1="644" y1="314.9" x2="665.8" y2="314.9" stroke="#1d1d1d" stroke-width="2.4" />
<line x1="726" y1="275.3" x2="748.2" y2="275.3" stroke="#1d1d1d" stroke-width="2.4" />
<line x1="726" y1="314.9" x2="748.2" y2="314.9" stroke="#1d1d1d" stroke-width="2.4" />
<rect x="650.3" y="258.6" width="5.2" height="15.7" rx="0" fill="#f8f8f9" stroke="none" stroke-width="0.0" />
<rect x="650.3" y="316" width="5.2" height="15.6" rx="0" fill="#f8f8f9" stroke="none" stroke-width="0.0" />
<rect x="736.6" y="258.6" width="5.2" height="15.7" rx="0" fill="#f8f8f9" stroke="none" stroke-width="0.0" />
<rect x="736.6" y="316" width="5.2" height="15.6" rx="0" fill="#f8f8f9" stroke="none" stroke-width="0.0" />
<line x1="650.5" y1="257.6" x2="650.5" y2="275.3" stroke="#1d1d1d" stroke-width="1.08" />
<line x1="655.5" y1="257.6" x2="655.5" y2="275.3" stroke="#1d1d1d" stroke-width="1.08" />
<line x1="650.5" y1="314.9" x2="650.5" y2="332.5" stroke="#1d1d1d" stroke-width="1.08" />
<line x1="655.5" y1="314.9" x2="655.5" y2="332.5" stroke="#1d1d1d" stroke-width="1.08" />
<line x1="736.5" y1="257.6" x2="736.5" y2="275.3" stroke="#1d1d1d" stroke-width="1.08" />
<line x1="741.5" y1="257.6" x2="741.5" y2="275.3" stroke="#1d1d1d" stroke-width="1.08" />
<line x1="736.5" y1="314.9" x2="736.5" y2="332.5" stroke="#1d1d1d" stroke-width="1.08" />
<line x1="741.5" y1="314.9" x2="741.5" y2="332.5" stroke="#1d1d1d" stroke-width="1.08" />
<line x1="645.4" y1="275.3" x2="645.4" y2="314.9" stroke="#1d1d1d" stroke-width="2.4" />
<line x1="747.0" y1="275.3" x2="747.0" y2="314.9" stroke="#1d1d1d" stroke-width="1.92" />
<circle cx="696.0" cy="295.5" r="18.2" fill="#ececee" stroke="#1d1d1d" stroke-width="4.08"/>
<clipPath id="cp1"><circle cx="696" cy="295.5" r="16.6"/></clipPath><g clip-path="url(#cp1)">
<rect x="676" y="288.4" width="40" height="18.4" rx="0" fill="#fbfbfb" stroke="none" stroke-width="0.0" />
<line x1="676" y1="288.4" x2="716" y2="288.4" stroke="#1d1d1d" stroke-width="1.8" />
<rect x="676" y="290.9" width="40" height="3.4" rx="0" fill="#2a2a2a" stroke="none" stroke-width="0.0" />
<rect x="681" y="291.8" width="1.2" height="1.2" rx="0" fill="#8c8c8c" stroke="none" stroke-width="0.0" />
<rect x="684" y="291.8" width="1.2" height="1.2" rx="0" fill="#8c8c8c" stroke="none" stroke-width="0.0" />
<rect x="687" y="291.8" width="1.2" height="1.2" rx="0" fill="#8c8c8c" stroke="none" stroke-width="0.0" />
<rect x="690" y="291.8" width="1.2" height="1.2" rx="0" fill="#8c8c8c" stroke="none" stroke-width="0.0" />
<rect x="693" y="291.8" width="1.2" height="1.2" rx="0" fill="#8c8c8c" stroke="none" stroke-width="0.0" />
<rect x="699" y="291.8" width="1.2" height="1.2" rx="0" fill="#8c8c8c" stroke="none" stroke-width="0.0" />
<rect x="702" y="291.8" width="1.2" height="1.2" rx="0" fill="#8c8c8c" stroke="none" stroke-width="0.0" />
<rect x="705" y="291.8" width="1.2" height="1.2" rx="0" fill="#8c8c8c" stroke="none" stroke-width="0.0" />
<rect x="708" y="291.8" width="1.2" height="1.2" rx="0" fill="#8c8c8c" stroke="none" stroke-width="0.0" />
<rect x="711" y="291.8" width="1.2" height="1.2" rx="0" fill="#8c8c8c" stroke="none" stroke-width="0.0" />
<path d="M679 295.4 L688.5 295.4 L688.5 296.8 L690 296.8 L690 298.8 L688 300.7 L704 300.7 L702 298.8 L702 296.8 L703.5 296.8 L703.5 295.4 L713 295.4" fill="none" stroke="#1d1d1d" stroke-width="1.08" stroke-linejoin="round" />
<line x1="690" y1="296.5" x2="702" y2="296.5" stroke="#1d1d1d" stroke-width="1.08" />
<line x1="690" y1="298.5" x2="702" y2="298.5" stroke="#1d1d1d" stroke-width="1.08" />
<path d="M677 300.2 Q684 301 688 300.7 M715 300.2 Q708 301 704 300.7" fill="none" stroke="#1d1d1d" stroke-width="1.08" stroke-linejoin="round" />
<line x1="682.6" y1="304.3" x2="709.2" y2="304.3" stroke="#1d1d1d" stroke-width="2.64" />
<path d="M678 305 Q696 308.6 714 305" fill="none" stroke="#1d1d1d" stroke-width="1.2" stroke-linejoin="round" />
</g>
<rect x="644" y="332.5" width="36.6" height="14.1" rx="0" fill="#e7e7ea" stroke="#1d1d1d" stroke-width="1.68" />
<rect x="711.7" y="332.5" width="36.5" height="14.1" rx="0" fill="#e7e7ea" stroke="#1d1d1d" stroke-width="1.68" />
<line x1="644" y1="332.7" x2="666" y2="332.7" stroke="#1d1d1d" stroke-width="2.16" />
<line x1="726" y1="332.7" x2="748.2" y2="332.7" stroke="#1d1d1d" stroke-width="2.16" />
<rect x="692.5" y="333.5" width="7.0" height="7.0" rx="0" fill="#fff" stroke="#1d1d1d" stroke-width="1.2" />
<line x1="695.5" y1="333.9" x2="695.5" y2="340.1" stroke="#1d1d1d" stroke-width="0.96" />
<line x1="644" y1="346.6" x2="748.2" y2="346.6" stroke="#1d1d1d" stroke-width="1.92" />
<path d="M652.8 347.2 L739.4 347.2 L736.9 427.4 L655 427.4 Z" fill="#e7e7ea" stroke="#1d1d1d" stroke-width="1.68" stroke-linejoin="round" />
<line x1="653" y1="348.5" x2="739" y2="348.5" stroke="#555" stroke-width="1.44" />
<line x1="683.5" y1="347.2" x2="683.5" y2="427.4" stroke="#1d1d1d" stroke-width="1.32" />
<line x1="708.5" y1="347.2" x2="708.5" y2="427.4" stroke="#1d1d1d" stroke-width="1.32" />
<rect x="731.5" y="427.5" width="6.0" height="16.0" rx="0" fill="#fff" stroke="#1d1d1d" stroke-width="1.32" />
<rect x="654.5" y="427.5" width="7.0" height="22.0" rx="0" fill="#333" stroke="#1d1d1d" stroke-width="0.96" />
<line x1="657.5" y1="430" x2="657.5" y2="447" stroke="#999" stroke-width="0.84" />
<rect x="656.5" y="449.5" width="5.0" height="27.0" rx="0" fill="#444" stroke="#1d1d1d" stroke-width="0.72" />
<rect x="651.1" y="449.6" width="9.3" height="9.1" rx="2" fill="#e4e4e4" stroke="#1d1d1d" stroke-width="1.92" />
<rect x="651.1" y="465.6" width="9.3" height="9.6" rx="2" fill="#e4e4e4" stroke="#1d1d1d" stroke-width="1.92" />
<line x1="654.5" y1="450" x2="654.5" y2="458.5" stroke="#1d1d1d" stroke-width="0.96" />
<line x1="654.5" y1="466" x2="654.5" y2="475" stroke="#1d1d1d" stroke-width="0.96" />
<path d="M660.9 427.4 L731.5 427.4 L730.1 540.5 C729.9 548.5 723 552.2 714.5 552.2 L677.5 552.2 C669 552.2 662.1 548.5 661.9 540.5 Z" fill="#e7e7ea" stroke="#1d1d1d" stroke-width="1.68" stroke-linejoin="round" />
<line x1="665" y1="429.8" x2="665" y2="435.5" stroke="#1d1d1d" stroke-width="1.68" />
<line x1="661.9" y1="522.5" x2="730.2" y2="522.5" stroke="#1d1d1d" stroke-width="1.2" />
<path d="M662 523 Q663 535.8 677 535.8 L715 535.8 Q729 535.8 730 523" fill="none" stroke="#1d1d1d" stroke-width="1.2" stroke-linejoin="round" />
<line x1="661.8" y1="538.5" x2="730.2" y2="538.5" stroke="#1d1d1d" stroke-width="1.2" />
<rect x="691.5" y="552.2" width="8.2" height="9.8" rx="0" fill="#f4f4f4" stroke="#1d1d1d" stroke-width="2.04" />
<circle cx="695.6" cy="557" r="1.7" fill="#fff" stroke="#1d1d1d" stroke-width="1.56"/>
<rect x="691.5" y="562.5" width="8.0" height="4.0" rx="0" fill="#fff" stroke="#1d1d1d" stroke-width="1.2" />
<line x1="695.5" y1="124" x2="695.5" y2="572" stroke="#1d1d1d" stroke-width="1.2" stroke-dasharray="64 2.5 5 2.5" stroke-dashoffset="12.5"/>
<line x1="638.5" y1="295.5" x2="737.5" y2="295.5" stroke="#1d1d1d" stroke-width="1.2" />
<line x1="740" y1="295.5" x2="745" y2="295.5" stroke="#1d1d1d" stroke-width="1.2" />
<text x="17.0" y="27.6" font-size="23.4" text-anchor="start" textLength="137.2" lengthAdjust="spacing" >AC50A-V-D</text>
<line x1="104.5" y1="58.8" x2="104.5" y2="246" stroke="#1d1d1d" stroke-width="1.15" />
<line x1="434.5" y1="58.8" x2="434.5" y2="259" stroke="#1d1d1d" stroke-width="1.15" />
<line x1="104.5" y1="61.5" x2="434.3" y2="61.5" stroke="#1d1d1d" stroke-width="1.15" />
<polygon points="104.50,61.50 114.50,58.90 114.50,64.10" fill="#1d1d1d"/>
<polygon points="434.30,61.50 424.30,58.90 424.30,64.10" fill="#1d1d1d"/>
<text x="269.1" y="56.7" font-size="16" text-anchor="middle" >A</text>
<line x1="104.5" y1="85.5" x2="326.7" y2="85.5" stroke="#1d1d1d" stroke-width="1.15" />
<polygon points="104.50,85.30 114.50,82.70 114.50,87.90" fill="#1d1d1d"/>
<polygon points="215.00,85.30 205.00,82.70 205.00,87.90" fill="#1d1d1d"/>
<polygon points="215.00,85.30 225.00,82.70 225.00,87.90" fill="#1d1d1d"/>
<polygon points="326.70,85.30 316.70,82.70 316.70,87.90" fill="#1d1d1d"/>
<line x1="215.5" y1="82.5" x2="215.5" y2="392.5" stroke="#1d1d1d" stroke-width="1.15" />
<line x1="326.5" y1="82.5" x2="326.5" y2="392.5" stroke="#1d1d1d" stroke-width="1.15" />
<text x="159.7" y="81" font-size="16" text-anchor="middle" >F</text>
<text x="271.1" y="80.8" font-size="16" text-anchor="middle" >N</text>
<line x1="203.5" y1="107" x2="203.5" y2="244.5" stroke="#1d1d1d" stroke-width="1.15" />
<line x1="226.5" y1="107" x2="226.5" y2="244.5" stroke="#1d1d1d" stroke-width="1.15" />
<line x1="187.8" y1="109.5" x2="249" y2="109.5" stroke="#1d1d1d" stroke-width="1.15" />
<polygon points="203.50,109.30 193.50,106.70 193.50,111.90" fill="#1d1d1d"/>
<polygon points="226.70,109.30 236.70,106.70 236.70,111.90" fill="#1d1d1d"/>
<text x="243.2" y="104.4" font-size="16" text-anchor="middle" >S</text>
<line x1="46" y1="122.5" x2="126" y2="122.5" stroke="#1d1d1d" stroke-width="1.15" />
<line x1="48.5" y1="122" x2="48.5" y2="566" stroke="#1d1d1d" stroke-width="1.15" />
<line x1="46" y1="566.5" x2="159" y2="566.5" stroke="#1d1d1d" stroke-width="1.15" />
<line x1="45.6" y1="295.5" x2="63.3" y2="295.5" stroke="#1d1d1d" stroke-width="1.15" />
<polygon points="48.40,122.00 45.80,132.00 51.00,132.00" fill="#1d1d1d"/>
<polygon points="48.40,295.70 45.80,285.70 51.00,285.70" fill="#1d1d1d"/>
<polygon points="48.40,295.70 45.80,305.70 51.00,305.70" fill="#1d1d1d"/>
<polygon points="48.40,566.00 45.80,556.00 51.00,556.00" fill="#1d1d1d"/>
<text x="43.8" y="208.7" font-size="16" text-anchor="middle" transform="rotate(-90 43.8 208.7)" >C</text>
<text x="43.8" y="430.9" font-size="16" text-anchor="middle" transform="rotate(-90 43.8 430.9)" >B</text>
<line x1="77.8" y1="231.5" x2="128" y2="231.5" stroke="#1d1d1d" stroke-width="1.15" />
<line x1="77.8" y1="244.5" x2="121" y2="244.5" stroke="#1d1d1d" stroke-width="1.15" />
<line x1="79.5" y1="209" x2="79.5" y2="231.3" stroke="#1d1d1d" stroke-width="1.15" />
<polygon points="79.30,231.30 76.80,222.80 81.80,222.80" fill="#1d1d1d"/>
<line x1="79.5" y1="244.3" x2="79.5" y2="260.5" stroke="#1d1d1d" stroke-width="1.15" />
<polygon points="79.30,244.30 76.80,252.80 81.80,252.80" fill="#1d1d1d"/>
<text x="75.1" y="214.5" font-size="16" text-anchor="middle" transform="rotate(-90 75.1 214.5)" >R</text>
<text x="69.5" y="291.7" font-size="16" text-anchor="start" textLength="17.0" lengthAdjust="spacing" >IN</text>
<line x1="70" y1="295.7" x2="88" y2="295.7" stroke="#1d1d1d" stroke-width="1.8" />
<polygon points="94.60,295.70 85.10,293.10 85.10,298.30" fill="#1d1d1d"/>
<text x="445.3" y="291.9" font-size="16" text-anchor="start" textLength="37.0" lengthAdjust="spacing" >OUT</text>
<line x1="446" y1="295.5" x2="484" y2="295.5" stroke="#1d1d1d" stroke-width="1.8" />
<polygon points="491.60,295.50 482.10,292.90 482.10,298.10" fill="#1d1d1d"/>
<line x1="382.2" y1="361" x2="382.2" y2="376" stroke="#1d1d1d" stroke-width="2.0" />
<polygon points="382.20,383.60 379.60,374.60 384.80,374.60" fill="#1d1d1d"/>
<text x="364.2" y="401.6" font-size="16" text-anchor="start" textLength="36.4" lengthAdjust="spacing" >EXH</text>
<line x1="420.5" y1="388.5" x2="495.4" y2="388.5" stroke="#1d1d1d" stroke-width="1.15" />
<line x1="420.5" y1="388.1" x2="384.2" y2="349.3" stroke="#1d1d1d" stroke-width="1.15" />
<polygon points="383.40,348.40 391.72,353.63 388.06,357.05" fill="#1d1d1d"/>
<text x="448.2" y="385.4" font-size="16" text-anchor="start" >P</text>
<text x="459.7" y="385.4" font-size="8.5" text-anchor="start" font-weight="bold">3</text>
<text x="420.0" y="402.8" font-size="14" text-anchor="start" textLength="74.6" lengthAdjust="spacing" >(Port size)</text>
<line x1="156.2" y1="579" x2="156.2" y2="593" stroke="#1d1d1d" stroke-width="2.0" />
<polygon points="156.20,601.30 153.60,591.80 158.80,591.80" fill="#1d1d1d"/>
<text x="134.3" y="616" font-size="16" text-anchor="start" textLength="44.4" lengthAdjust="spacing" >Drain</text>
<line x1="234.4" y1="593.5" x2="364" y2="593.5" stroke="#1d1d1d" stroke-width="1.15" />
<line x1="234.4" y1="593.8" x2="164.2" y2="308.5" stroke="#1d1d1d" stroke-width="1.15" />
<polygon points="163.40,304.80 168.26,313.40 163.01,314.67" fill="#1d1d1d"/>
<text x="286.0" y="589.3" font-size="16" text-anchor="start" >P</text>
<text x="297.3" y="589.3" font-size="8.5" text-anchor="start" font-weight="bold">2</text>
<text x="216.2" y="608.2" font-size="14" text-anchor="start" textLength="157.4" lengthAdjust="spacingAndGlyphs" word-spacing="1.5">(Pressure gauge port size)</text>
<line x1="643.5" y1="105" x2="643.5" y2="246" stroke="#1d1d1d" stroke-width="1.15" />
<line x1="695.5" y1="105" x2="695.5" y2="124" stroke="#1d1d1d" stroke-width="1.15" />
<line x1="776.5" y1="105" x2="776.5" y2="228" stroke="#1d1d1d" stroke-width="1.15" />
<line x1="643.6" y1="109.5" x2="776.9" y2="109.5" stroke="#1d1d1d" stroke-width="1.15" />
<polygon points="643.60,109.60 652.10,107.30 652.10,111.90" fill="#1d1d1d"/>
<polygon points="695.70,109.60 687.20,107.30 687.20,111.90" fill="#1d1d1d"/>
<polygon points="695.70,109.60 704.20,107.30 704.20,111.90" fill="#1d1d1d"/>
<polygon points="776.90,109.60 768.40,107.30 768.40,111.90" fill="#1d1d1d"/>
<text x="668.7" y="103.4" font-size="16" text-anchor="middle" >J</text>
<text x="735.0" y="104.9" font-size="16" text-anchor="middle" >M</text>
<line x1="767.4" y1="226.5" x2="855" y2="226.5" stroke="#1d1d1d" stroke-width="1.15" />
<line x1="779" y1="237.5" x2="804.6" y2="237.5" stroke="#1d1d1d" stroke-width="1.15" />
<line x1="763" y1="237.5" x2="776" y2="237.5" stroke="#1d1d1d" stroke-width="1.0" stroke-dasharray="5 2.5"/>
<line x1="747.5" y1="295.5" x2="855.2" y2="295.5" stroke="#1d1d1d" stroke-width="1.15" />
<line x1="777.1" y1="353.5" x2="804.4" y2="353.5" stroke="#1d1d1d" stroke-width="1.15" />
<line x1="777.1" y1="375.5" x2="829.8" y2="375.5" stroke="#1d1d1d" stroke-width="1.15" />
<line x1="777.1" y1="387.5" x2="855.2" y2="387.5" stroke="#1d1d1d" stroke-width="1.15" />
<line x1="761.9" y1="353.5" x2="776" y2="353.5" stroke="#1d1d1d" stroke-width="1.0" stroke-dasharray="5 2.5"/>
<line x1="761.9" y1="375.5" x2="776" y2="375.5" stroke="#1d1d1d" stroke-width="1.0" stroke-dasharray="5 2.5"/>
<line x1="802.5" y1="237.9" x2="802.5" y2="353" stroke="#1d1d1d" stroke-width="1.15" />
<polygon points="802.00,237.90 799.70,246.40 804.30,246.40" fill="#1d1d1d"/>
<polygon points="802.00,295.40 799.70,286.90 804.30,286.90" fill="#1d1d1d"/>
<polygon points="802.00,295.40 799.70,303.90 804.30,303.90" fill="#1d1d1d"/>
<polygon points="802.00,353.00 799.70,344.50 804.30,344.50" fill="#1d1d1d"/>
<line x1="827.5" y1="295.4" x2="827.5" y2="375.9" stroke="#1d1d1d" stroke-width="1.15" />
<polygon points="827.30,295.40 825.00,303.90 829.60,303.90" fill="#1d1d1d"/>
<polygon points="827.30,375.90 825.00,367.40 829.60,367.40" fill="#1d1d1d"/>
<line x1="852.5" y1="226.3" x2="852.5" y2="387.4" stroke="#1d1d1d" stroke-width="1.15" />
<polygon points="852.60,226.30 850.30,234.80 854.90,234.80" fill="#1d1d1d"/>
<polygon points="852.60,295.40 850.30,286.90 854.90,286.90" fill="#1d1d1d"/>
<polygon points="852.60,295.40 850.30,303.90 854.90,303.90" fill="#1d1d1d"/>
<polygon points="852.60,387.40 850.30,378.90 854.90,378.90" fill="#1d1d1d"/>
<text transform="translate(797.3 275.8) rotate(-90)" font-size="16"><tspan>Q</tspan><tspan font-size="8.5" font-weight="bold" dx="0.6">1</tspan></text>
<text transform="translate(797.4 334.0) rotate(-90)" font-size="16"><tspan>Q</tspan><tspan font-size="8.5" font-weight="bold" dx="0.6">1</tspan></text>
<text transform="translate(822.8 344.8) rotate(-90)" font-size="16"><tspan>Q</tspan><tspan font-size="8.5" font-weight="bold" dx="0.6">2</tspan></text>
<text transform="translate(848.2 270.0) rotate(-90)" font-size="16"><tspan>V</tspan><tspan font-size="8.5" font-weight="bold" dx="0.6">1</tspan></text>
<text transform="translate(847.2 351.0) rotate(-90)" font-size="16"><tspan>V</tspan><tspan font-size="8.5" font-weight="bold" dx="0.6">2</tspan></text>
<line x1="767.5" y1="388" x2="767.5" y2="416" stroke="#1d1d1d" stroke-width="1.15" />
<line x1="776.5" y1="388" x2="776.5" y2="416" stroke="#1d1d1d" stroke-width="1.15" />
<line x1="752" y1="413.5" x2="767.5" y2="413.5" stroke="#1d1d1d" stroke-width="1.15" />
<polygon points="767.50,413.10 759.00,410.80 759.00,415.40" fill="#1d1d1d"/>
<line x1="776.9" y1="413.5" x2="800" y2="413.5" stroke="#1d1d1d" stroke-width="1.15" />
<polygon points="776.90,413.10 785.40,410.80 785.40,415.40" fill="#1d1d1d"/>
<text x="793.3" y="408.3" font-size="16" text-anchor="middle" >U</text>
<line x1="560.3" y1="355.5" x2="633" y2="355.5" stroke="#1d1d1d" stroke-width="1.15" />
<line x1="633" y1="355" x2="684.0" y2="313.9" stroke="#1d1d1d" stroke-width="1.15" />
<polygon points="684.80,313.20 679.04,321.19 675.77,317.14" fill="#1d1d1d"/>
<text x="575.0" y="350" font-size="16" text-anchor="start" >2</text>
<line x1="589.0" y1="340.0" x2="599.4" y2="350.0" stroke="#1d1d1d" stroke-width="1.0" />
<line x1="589.0" y1="350.0" x2="599.4" y2="340.0" stroke="#1d1d1d" stroke-width="1.0" />
<text x="603.4" y="350" font-size="16" text-anchor="start" >P</text>
<text x="614.6" y="350" font-size="8.5" text-anchor="start" font-weight="bold">1</text>
<text x="559.2" y="372.6" font-size="15" text-anchor="start" textLength="81.5" lengthAdjust="spacing" >(Port size)</text>
<line x1="699.5" y1="565.5" x2="728.2" y2="565.5" stroke="#1d1d1d" stroke-width="1.15" />
<line x1="725.5" y1="565.6" x2="725.5" y2="650.7" stroke="#1d1d1d" stroke-width="1.15" />
<polygon points="725.80,565.60 723.40,575.10 728.20,575.10" fill="#1d1d1d"/>
<text x="721.2" y="615.0" font-size="16" text-anchor="middle" transform="rotate(-90 721.2 615.0)" >G</text>
<text x="745.8" y="654.1" font-size="15" text-anchor="start" textLength="90.2" lengthAdjust="spacing" transform="rotate(-90 745.8 654.1)" >Clearance for</text>
<text x="762.7" y="652.9" font-size="15" text-anchor="start" textLength="86.2" lengthAdjust="spacing" transform="rotate(-90 762.7 652.9)" >maintenance</text>
</svg>
</body></html>
